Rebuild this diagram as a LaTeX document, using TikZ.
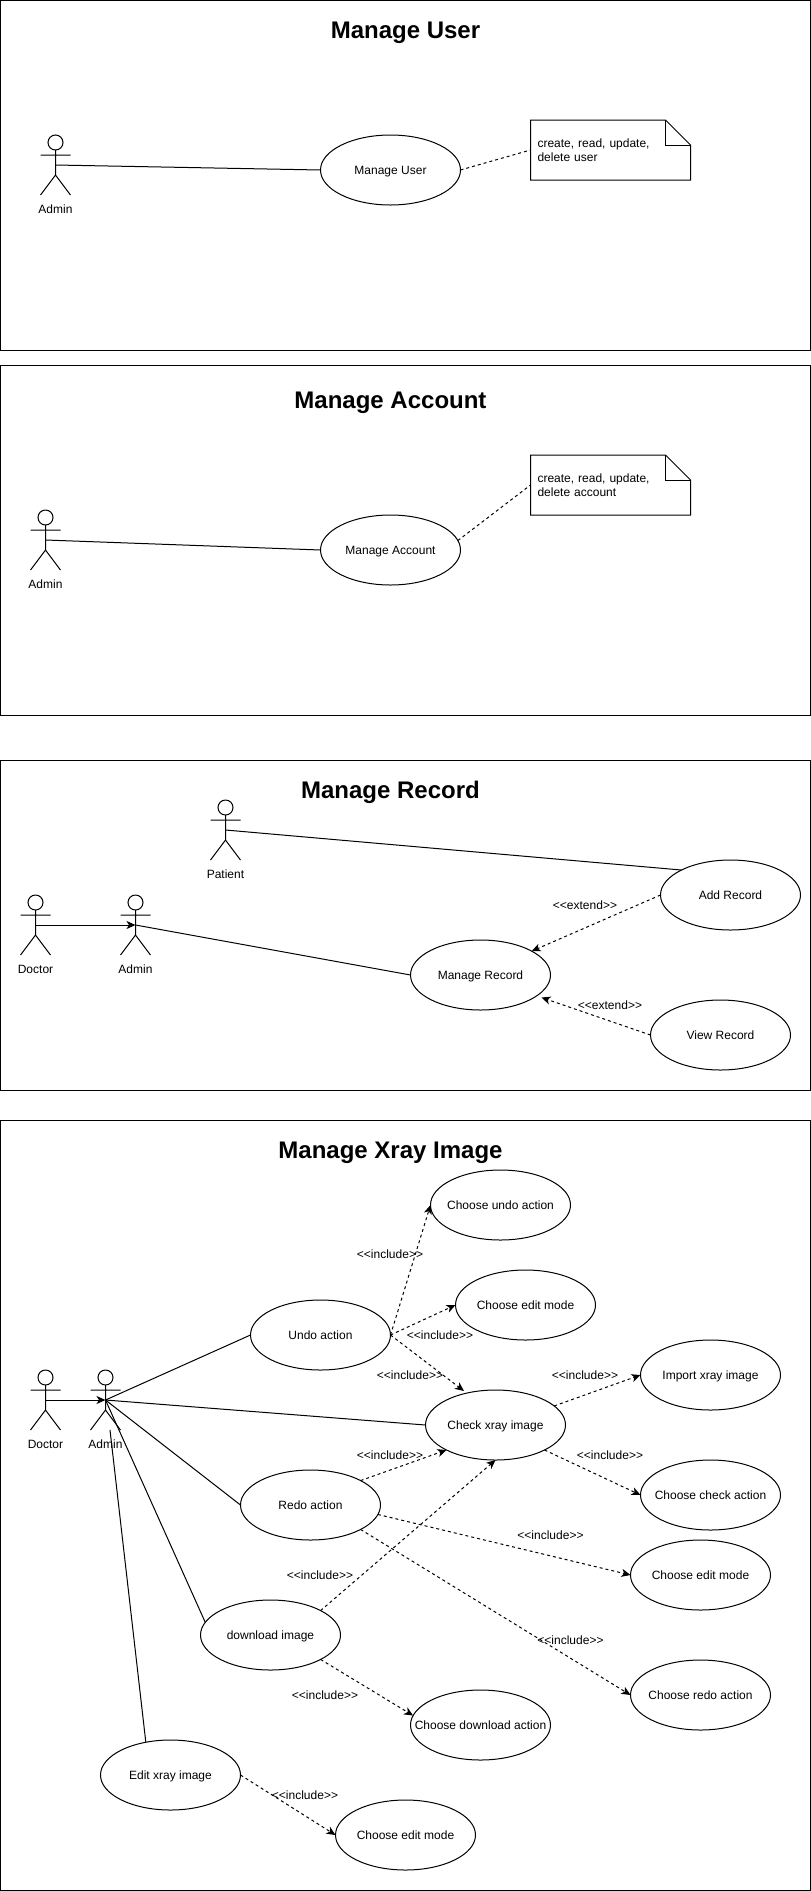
\documentclass[tikz,border=0pt]{standalone}
\usepackage{fontspec}
\setmainfont{Liberation Sans}
\usetikzlibrary{shapes.geometric,arrows.meta}

\newcommand{\ucname}[1]{\makebox[0pt]{#1}}
\newcommand{\stereo}[1]{<\kern0pt<#1>\kern0pt>}

\tikzset{
    panel/.style={draw, rectangle, minimum width=810pt, inner sep=0pt, outer sep=0pt},
    heading/.style={font=\fontsize{24}{28}\selectfont\bfseries, inner sep=0pt, text height=17.2pt, text depth=0pt},
    usecase/.style={draw, ellipse, minimum width=140pt, minimum height=70pt, inner sep=0pt, outer sep=0pt, text height=8.6pt, text depth=0pt},
    notebox/.style={rectangle, minimum width=160pt, minimum height=60pt, text width=146pt, inner sep=7pt, outer sep=0pt, align=left},
    tag/.style={inner sep=0pt, text height=8.6pt, text depth=0pt},
    incl/.style={->, dash pattern=on 3pt off 3pt},
    actor/.pic={
        \node (-head) [draw, circle, minimum size=15pt, inner sep=0pt, outer sep=0pt] at (0,7.5) {};
        \coordinate (-mid) at (0,30);
        \draw (-head.south) -- (0,40) (-15,20) -- (15,20) (-15,60) -- (0,40) -- (15,60);
        \node (-name) [tag] at (0,73.7) {#1};
    }
}

\begin{document}
\begin{tikzpicture}[x=1pt, y=-1pt, line width=1pt, font=\fontsize{12}{14}\selectfont, >={Stealth[length=9pt,width=8pt,inset=2.5pt]}]
        \useasboundingbox (0,0) rectangle (811,1891);

        % Manage User
        \node (panelA) [panel, minimum height=350pt] at (405.5,175.5) {};
        \node (titleA) [heading] at (405.5,30) {Manage User};
        \pic (admA) at (55.5,135) {actor=Admin};
        \node (mgUser) [usecase] at (390.5,170) {\ucname{Manage User}};
        \node (noteA) [notebox, right of=mgUser, node distance=220pt, yshift=20pt] {create, read, update,\\delete user};
        \draw (admA-mid) -- (mgUser.west);
        \draw[incl, -] (mgUser.east) -- (noteA.west);

        % Manage Account
        \node (panelB) [panel, minimum height=350pt] at (405.5,540.5) {};
        \node (titleB) [heading] at (390.5,400) {Manage Account};
        \pic (admB) at (45.5,510) {actor=Admin};
        \node (mgAcct) [usecase] at (390.5,550) {\ucname{Manage Account}};
        \node (noteB) [notebox, right of=mgAcct, node distance=220pt, yshift=65pt] {create, read, update,\\delete account};
        \draw (admB-mid) -- (mgAcct.west);
        \draw[incl, -] (mgAcct.8) -- (noteB.west);

        % Folded corners of the notes
        \foreach \n in {noteA,noteB} {
            \draw ([xshift=-25pt]\n.north east) -- (\n.north west) -- (\n.south west) -- (\n.south east) -- ([yshift=-25pt]\n.north east) -- cycle;
            \draw ([xshift=-25pt]\n.north east) -- ([xshift=-25pt,yshift=-25pt]\n.north east) -- ([yshift=-25pt]\n.north east);
        }

        % Manage Record
        \node (panelC) [panel, minimum height=330pt] at (405.5,925.5) {};
        \node (titleC) [heading] at (390.5,790) {Manage Record};
        \pic (patC) at (225.5,800) {actor=Patient};
        \pic (docC) at (35.5,895) {actor=Doctor};
        \pic (admC) at (135.5,895) {actor=Admin};
        \node (mgRec) [usecase] at (480.5,975) {\ucname{Manage Record}};
        \node (addRec) [usecase, right of=mgRec, node distance=250pt, yshift=80pt] {\ucname{Add Record}};
        \node (viewRec) [usecase, right of=mgRec, node distance=240pt, yshift=-60pt] {\ucname{View Record}};
        \coordinate (recTip) at (541.5,997.5);
        \draw[->] (docC-mid) -- (admC-mid);
        \draw (admC-mid) -- (mgRec.west);
        \draw (patC-mid) -- (addRec.153);
        \draw[incl] (addRec.west) -- (mgRec.25);
        \draw[incl] (viewRec.west) -- (recTip);
        \node (extA) [tag] at (585,904.7) {\stereo{extend}};
        \node (extB) [tag] at (610,1004.7) {\stereo{extend}};

        % Manage Xray Image
        \node (panelD) [panel, minimum height=770pt] at (405.5,1505.5) {};
        \node (titleD) [heading] at (390.5,1150) {Manage Xray Image};
        \pic (docD) at (45.5,1370) {actor=Doctor};
        \pic (admD) at (105.5,1370) {actor=Admin};
        \node (undo) [usecase] at (320.5,1335) {\ucname{Undo action}};
        \node (chkImg) [usecase, right of=undo, node distance=175pt, yshift=-90pt] {\ucname{Check xray image}};
        \node (undoAct) [usecase, right of=undo, node distance=180pt, yshift=130pt] {\ucname{Choose undo action}};
        \node (editA) [usecase, right of=undo, node distance=205pt, yshift=30pt] {\ucname{Choose edit mode}};
        \node (impImg) [usecase, right of=chkImg, node distance=215pt, yshift=50pt] {\ucname{Import xray image}};
        \node (chkAct) [usecase, right of=chkImg, node distance=215pt, yshift=-70pt] {\ucname{Choose check action}};
        \node (redo) [usecase] at (310.5,1505) {\ucname{Redo action}};
        \node (editB) [usecase, right of=redo, node distance=390pt, yshift=-70pt] {\ucname{Choose edit mode}};
        \node (redoAct) [usecase, right of=redo, node distance=390pt, yshift=-190pt] {\ucname{Choose redo action}};
        \node (dlImg) [usecase] at (270.5,1635) {\ucname{download image}};
        \node (dlAct) [usecase, right of=dlImg, node distance=210pt, yshift=-90pt] {\ucname{Choose download action}};
        \node (editImg) [usecase] at (170.5,1775) {\ucname{Edit xray image}};
        \node (editC) [usecase, right of=editImg, node distance=235pt, yshift=-60pt] {\ucname{Choose edit mode}};
        \coordinate (editEnd) at (110,1430);
        \coordinate (chkTip) at (464,1391);

        \draw[->] (docD-mid) -- (admD-mid);
        \draw (admD-mid) -- (undo.west);
        \draw (admD-mid) -- (chkImg.west);
        \draw (admD-mid) -- (redo.west);
        \draw (admD-mid) -- (dlImg.169);
        \draw (editEnd) -- (editImg.127);

        \draw[incl] (undo.east) -- (undoAct.west);
        \draw[incl] (undo.east) -- (editA.west);
        \draw[incl] (undo.east) -- (chkTip);
        \draw[incl] (chkImg.18) -- (impImg.west);
        \draw[incl] (chkImg.-27) -- (chkAct.west);
        \draw[incl] (redo.26) -- (chkImg.207);
        \draw[incl] (redo.-8) -- (editB.west);
        \draw[incl] (redo.-26) -- (redoAct.west);
        \draw[incl] (dlImg.26) -- (chkImg.south);
        \draw[incl] (dlImg.-26) -- (dlAct.172);
        \draw[incl] (editImg.east) -- (editC.west);

        \node (incA) [tag] at (390,1254.3) {\stereo{include}};
        \node (incB) [tag] at (440,1334.7) {\stereo{include}};
        \node (incC) [tag] at (410,1374.7) {\stereo{include}};
        \node (incD) [tag] at (585,1374.7) {\stereo{include}};
        \node (incE) [tag] at (390,1454.7) {\stereo{include}};
        \node (incF) [tag] at (610,1454.7) {\stereo{include}};
        \node (incG) [tag] at (550.5,1534.7) {\stereo{include}};
        \node (incH) [tag] at (320,1574.7) {\stereo{include}};
        \node (incI) [tag] at (570.5,1639.7) {\stereo{include}};
        \node (incJ) [tag] at (325,1694.7) {\stereo{include}};
        \node (incK) [tag] at (305,1794.7) {\stereo{include}};
\end{tikzpicture}
\end{document}
